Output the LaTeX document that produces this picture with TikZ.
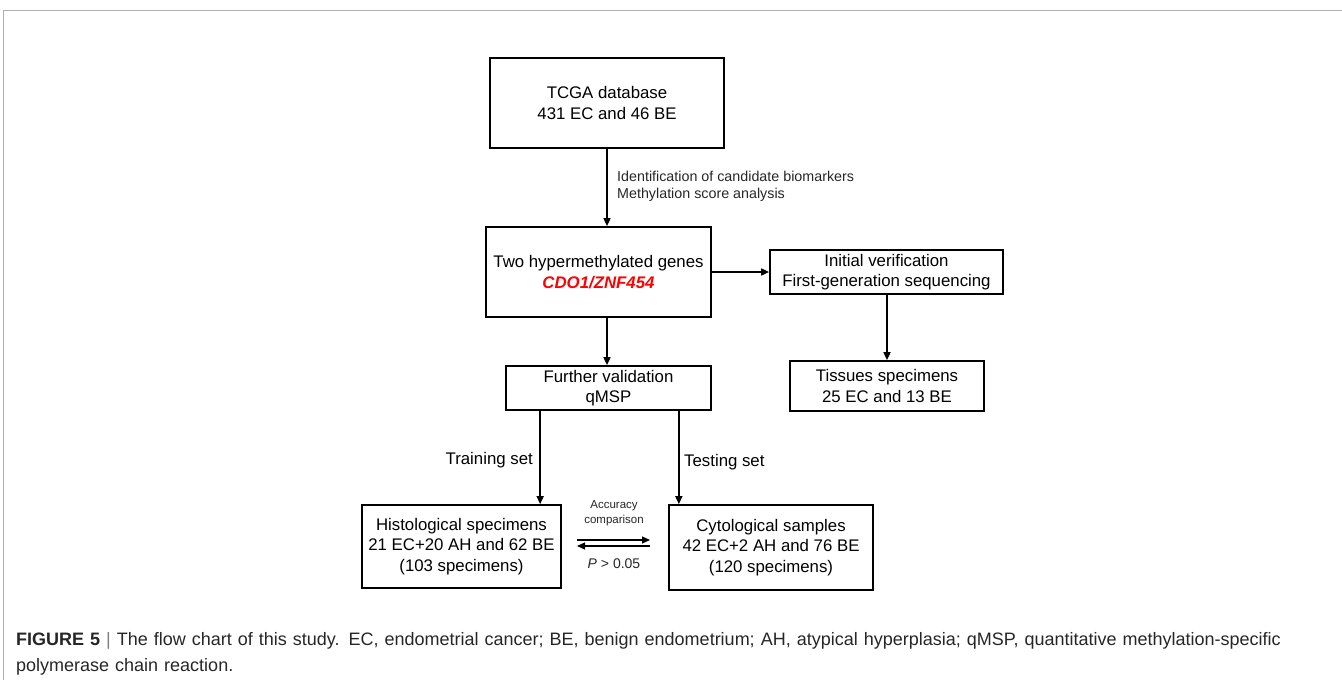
\documentclass[tikz,border=0pt]{standalone}
\usepackage{fontspec}
\setmainfont{Liberation Sans}
\usetikzlibrary{arrows.meta,calc}
\begin{document}
\begin{tikzpicture}[x=1pt,y=-1pt,
  box/.style={draw, line width=1.7pt, align=center, inner sep=0pt, font=\fontsize{16.8}{20.5}\selectfont},
  arr/.style={-{Triangle[length=8pt,width=7pt]}, line width=1.6pt},
  lbl/.style={inner sep=0pt, font=\fontsize{14.3}{17}\selectfont, text=black!85},
  set/.style={inner sep=0pt, font=\fontsize{16.8}{19}\selectfont}]
\useasboundingbox (0,0) rectangle (1342,680);
\draw[gray!60, line width=1pt] (1342,10) -- (3,10) -- (3,680);

\node[box, minimum width=234pt, minimum height=90pt] (tcga) at (607,103) {TCGA database\\431 EC and 46 BE};
\node[box, minimum width=225pt, minimum height=90pt] (hyper) at (598.5,272) {Two hypermethylated genes\\\textcolor{red}{\textbf{\textit{CDO1/ZNF454}}}};
\node[box, minimum width=233pt, minimum height=44pt] (init) at (886.5,272) {Initial verification\\First-generation sequencing};
\node[box, minimum width=194pt, minimum height=50pt] (tissue) at (887,386) {Tissues specimens\\25 EC and 13 BE};
\node[box, minimum width=205pt, minimum height=44pt] (further) at (608.5,388) {Further validation\\qMSP};
\node[box, minimum width=199pt, minimum height=83pt] (histo) at (461.5,546.5) {Histological specimens\\21 EC+20 AH and 62 BE\\(103 specimens)};
\node[box, minimum width=204pt, minimum height=85pt] (cyto) at (771,547.5) {Cytological samples\\42 EC+2 AH and 76 BE\\(120 specimens)};

\draw[arr] (tcga.south) -- (tcga.south |- hyper.north);
\node[lbl, anchor=west, align=left] (idl) at (617,186.5) {Identification of candidate biomarkers\\Methylation score analysis};
\draw[arr] (hyper.east) -- (hyper.east -| init.west);
\draw[arr] (tissue.north |- init.south) -- (tissue.north);
\draw[arr] (tcga.south |- hyper.south) -- (tcga.south |- further.north);
\draw[arr] ([xshift=35pt]further.south west) -- ([xshift=35pt]further.south west |- histo.north);
\draw[arr] ([xshift=-33pt]further.south east) -- ([xshift=-33pt]further.south east |- cyto.north);
\node[set, anchor=east] (train) at (533,460) {Training set};
\node[set, anchor=west] (test) at (684,462) {Testing set};

\coordinate (ra) at (577,540);
\coordinate (rb) at (650,540);
\coordinate (la) at (650,546);
\coordinate (lb) at (577,546);
\draw[arr, line width=1.1pt] (ra) -- (rb);
\draw[arr, line width=1.1pt] (la) -- (lb);
\node[inner sep=0pt, align=center, font=\fontsize{11.5}{15}\selectfont, text=black!85] (acc) at (614,513) {Accuracy\\comparison};
\node[inner sep=0pt, font=\fontsize{14}{16}\selectfont, text=black!85] (pv) at (614,564) {\textit{P} > 0.05};

\node[inner sep=0pt, anchor=north west, align=left, text width=1310pt, font=\fontsize{18}{26}\selectfont, text=black!85] (cap) at (16,632)
 {\textbf{FIGURE 5} \textcolor{gray}{|} The flow chart of this study. EC, endometrial cancer; BE, benign endometrium; AH, atypical hyperplasia; qMSP, quantitative methylation-specific\\polymerase chain reaction.};
\end{tikzpicture}
\end{document}
